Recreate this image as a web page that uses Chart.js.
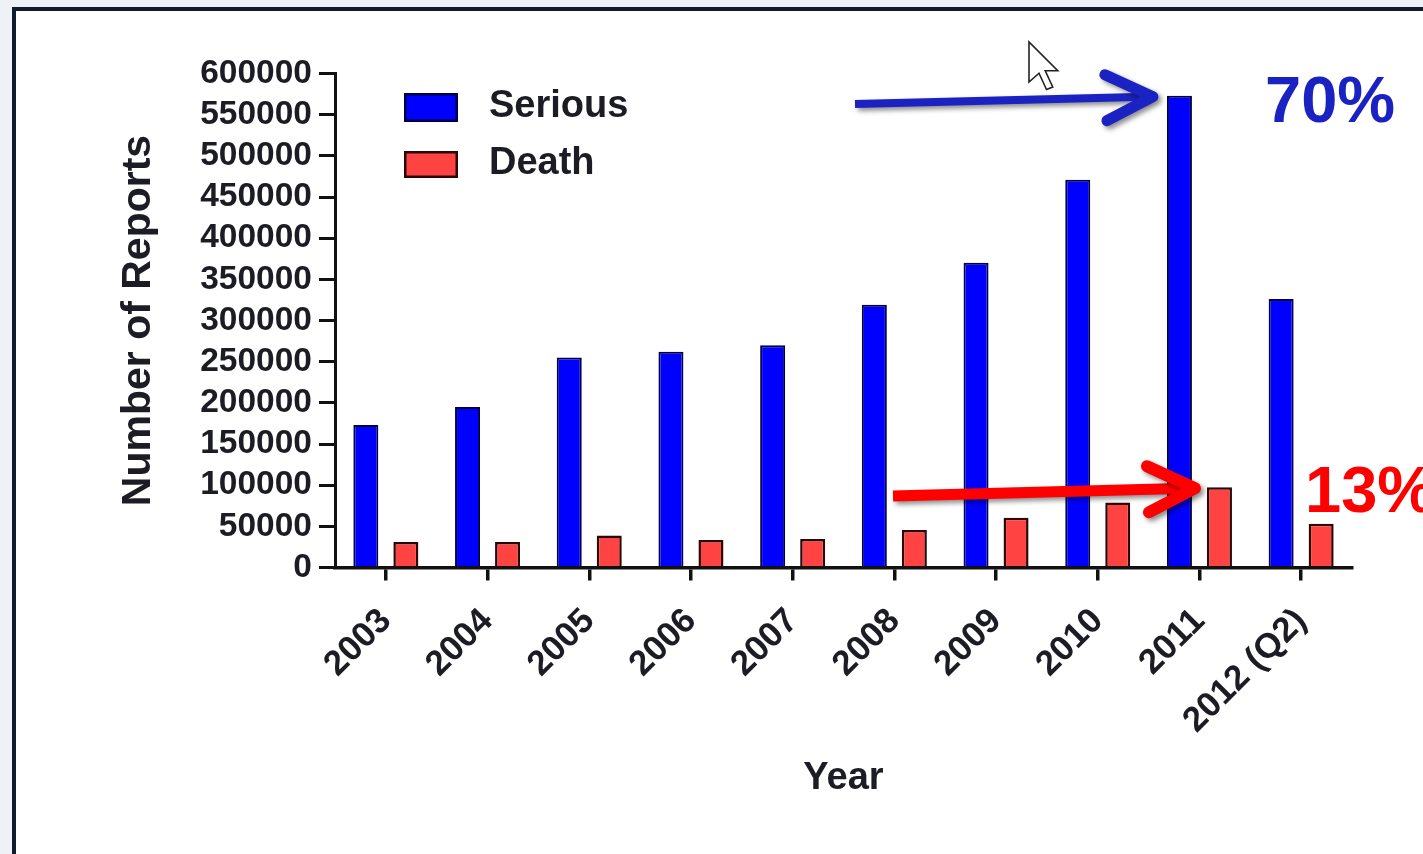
<!DOCTYPE html>
<html>
<head>
<meta charset="utf-8">
<script src="https://cdn.jsdelivr.net/npm/chart.js@4.4.1/dist/chart.umd.min.js"></script>
<style>
  html, body { margin: 0; padding: 0; background: #eef1f6; overflow: hidden; }
  #frame {
    position: absolute; left: 12px; top: 7px; width: 1411px; height: 847px;
    background: #ffffff; box-sizing: border-box;
    border-left: 4px solid #101c2c; border-top: 4px solid #101c2c;
  }
  #chart { position: absolute; left: 0; top: 0; }
</style>
</head>
<body>
<div id="frame"></div>
<canvas id="chart" width="1423" height="854"></canvas>
<script>
// Adverse event reports per year
const years   = ['2003', '2004', '2005', '2006', '2007', '2008', '2009', '2010', '2011', '2012 (Q2)'];
const serious = [173000, 195000, 255000, 262000, 270000, 319000, 370000, 471000, 573000, 326000];
const deaths  = [31000, 31000, 39000, 33500, 34500, 45500, 60500, 79000, 97500, 53000];
const yMin = 0, yMax = 600000, yStep = 50000;
const seriousGrowth = '70%';
const deathGrowth = '13%';

const FONT = '"Liberation Sans", Arial, sans-serif';
const INK = '#1c1c24';

function arrow(ctx, x0, y0, x1, y1, color, shaftW, headW) {
  ctx.save();
  ctx.strokeStyle = color;
  ctx.shadowColor = 'rgba(0,0,0,0.45)';
  ctx.shadowBlur = 5;
  ctx.shadowOffsetX = 3;
  ctx.shadowOffsetY = 3;
  ctx.lineCap = 'butt';
  ctx.lineWidth = shaftW;
  ctx.beginPath();
  ctx.moveTo(x0, y0);
  ctx.lineTo(x1 - 6, y1);
  ctx.stroke();
  ctx.lineCap = 'round';
  ctx.lineJoin = 'round';
  ctx.lineWidth = headW;
  ctx.beginPath();
  ctx.moveTo(x1 - 48, y1 - 22);
  ctx.lineTo(x1, y1);
  ctx.lineTo(x1 - 46, y1 + 24);
  ctx.stroke();
  ctx.restore();
}

function pointer(ctx, x, y, s) {
  const pts = [[0,0],[0,16],[4,12.5],[7,19],[9.5,18],[6.5,11.5],[11.5,11.5]];
  ctx.save();
  ctx.beginPath();
  pts.forEach(([px, py], k) => {
    const X = x + px * s, Y = y + py * s;
    if (k) ctx.lineTo(X, Y); else ctx.moveTo(X, Y);
  });
  ctx.closePath();
  ctx.fillStyle = '#ffffff';
  ctx.fill();
  ctx.lineWidth = 1.6;
  ctx.strokeStyle = '#222';
  ctx.stroke();
  ctx.restore();
}

const overlay = {
  id: 'overlay',
  afterDraw(chart) {
    const ctx = chart.ctx;
    const ds = chart.data.datasets;

    // legend, upper left of the plot
    const rows = [{ y: 93, h: 29, ty: 107 }, { y: 151, h: 27, ty: 164 }];
    ctx.save();
    ctx.font = 'bold 38px ' + FONT;
    ctx.textBaseline = 'middle';
    ctx.textAlign = 'left';
    rows.forEach((r, k) => {
      ctx.fillStyle = ds[k].backgroundColor;
      ctx.fillRect(404, r.y, 54, r.h);
      ctx.lineWidth = 2.5;
      ctx.strokeStyle = ds[k].borderColor;
      ctx.strokeRect(404 + 1.25, r.y + 1.25, 54 - 2.5, r.h - 2.5);
      ctx.fillStyle = INK;
      ctx.fillText(ds[k].label, 489, r.ty);
    });
    ctx.restore();

    // arrows to the 2011 bars
    const i = years.indexOf('2011');
    const sb = chart.getDatasetMeta(0).data[i];
    const db = chart.getDatasetMeta(1).data[i];
    arrow(ctx, 855, 104, sb.x - sb.width / 2 - 14, sb.y + 1, '#1b22c2', 8, 11);
    arrow(ctx, 893, 496, db.x - db.width / 2 - 12, db.y + 1, '#ff0000', 11, 12);

    ctx.save();
    ctx.font = 'bold 65px ' + FONT;
    ctx.textBaseline = 'alphabetic';
    ctx.textAlign = 'left';
    ctx.fillStyle = '#1b22c2';
    ctx.fillText(seriousGrowth, 1265, 122);
    ctx.fillStyle = '#ff0000';
    ctx.fillText(deathGrowth, 1305, 512);
    ctx.restore();

    pointer(ctx, 1029, 42, 2.5);
  }
};

new Chart(document.getElementById('chart'), {
  type: 'bar',
  data: {
    labels: years,
    datasets: [
      { label: 'Serious', data: serious, backgroundColor: '#0000ff', borderColor: '#00004a', borderWidth: 2 },
      { label: 'Death', data: deaths, backgroundColor: '#ff4242', borderColor: '#2a0808', borderWidth: 2.5 }
    ]
  },
  options: {
    responsive: false,
    animation: false,
    devicePixelRatio: 1,
    categoryPercentage: 0.787,
    barPercentage: 0.625,
    layout: { padding: { top: 73.5, right: 71, bottom: 0, left: 0 } },
    plugins: { legend: { display: false }, tooltip: { enabled: false } },
    scales: {
      x: {
        grid: { display: true, drawOnChartArea: false, drawTicks: true, tickLength: 13, offset: false, color: '#111', lineWidth: 3.5 },
        border: { display: true, color: '#111', width: 3.5 },
        ticks: { minRotation: 45, maxRotation: 45, autoSkip: false, padding: 20, color: INK, font: { family: FONT, size: 35, weight: 'bold' } },
        title: { display: true, text: 'Year', color: INK, font: { family: FONT, size: 38, weight: 'bold' }, padding: { top: 0, bottom: 53 } },
        afterFit(scale) { scale.height = 854 - 567.5; }
      },
      y: {
        min: yMin, max: yMax,
        grid: { display: true, drawOnChartArea: false, drawTicks: true, tickLength: 16, color: '#111', lineWidth: 3 },
        border: { display: true, color: '#111', width: 3 },
        ticks: { stepSize: yStep, autoSkip: false, padding: 7, color: INK, font: { family: FONT, size: 33.5, weight: 'bold' }, callback: v => String(v) },
        title: { display: true, text: 'Number of Reports', color: INK, font: { family: FONT, size: 41, weight: 'bold' }, padding: { top: 114, bottom: 0 } },
        afterFit(scale) { scale.width = 335; }
      }
    }
  },
  plugins: [overlay]
});
</script>
</body>
</html>
